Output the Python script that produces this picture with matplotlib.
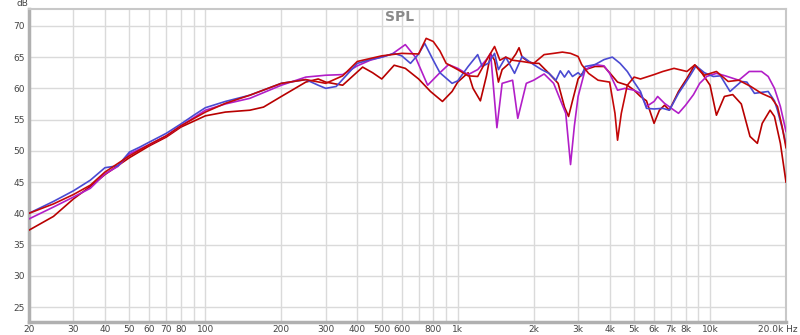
#!/usr/bin/env python3
import matplotlib
matplotlib.use("Agg")
import matplotlib.pyplot as plt
from matplotlib.ticker import FixedLocator, NullFormatter

# ====== DATA ======
BLUE_F = [20, 25, 30, 35, 40, 45, 50, 55, 60, 70, 80, 90, 100, 120, 150, 200, 250, 280, 300,
          330, 370, 400, 450, 500, 560, 600, 650, 700, 740, 800, 850, 950, 1000, 1100, 1200,
          1250, 1320, 1400, 1450, 1550, 1680, 1800, 2000, 2150, 2300, 2450, 2550, 2650, 2750,
          2850, 3000, 3100, 3200, 3500, 3800, 4100, 4400, 4700, 5000, 5300, 5600, 6000, 6500,
          6900, 7500, 8300, 8800, 9500, 10300, 11000, 12000, 13300, 14000, 15000, 17000, 18000,
          18500, 19500, 20000]
BLUE_DB = [40.0, 41.9, 43.6, 45.3, 47.3, 47.6, 49.8, 50.6, 51.4, 52.8, 54.3, 55.7, 56.9, 57.9,
           58.9, 60.8, 61.4, 60.5, 60.0, 60.3, 62.5, 64.0, 64.6, 65.0, 65.6, 65.2, 64.0, 65.5,
           67.2, 64.5, 62.5, 60.8, 61.2, 63.5, 65.4, 63.5, 64.0, 65.6, 63.0, 65.0, 62.4, 65.1,
           63.8, 63.0, 62.4, 61.3, 62.8, 61.8, 62.8, 61.9, 62.5, 62.0, 63.5, 63.8, 64.6, 65.0,
           64.0, 62.7, 61.0, 59.5, 56.8, 56.7, 56.8, 56.5, 59.2, 61.9, 63.6, 62.5, 61.9, 62.0,
           59.5, 61.1, 61.0, 59.2, 59.5, 58.0, 56.5, 53.0, 51.0]

MAG_F = [20, 25, 30, 35, 40, 45, 50, 60, 70, 80, 100, 120, 150, 200, 250, 300, 350, 400, 450,
         500, 550, 620, 680, 760, 850, 920, 1000, 1100, 1200, 1300, 1350, 1430, 1500, 1650, 1730,
         1870, 2000, 2200, 2400, 2680, 2800, 2900, 3000, 3200, 3500, 3800, 4000, 4300, 4600,
         5000, 5300, 5600, 6000, 6200, 6600, 7200, 7500, 8000, 8600, 9100, 9700, 10600, 11500,
         13000, 14300, 16000, 17000, 18000, 19000, 20000]
MAG_DB = [39.1, 41.0, 42.6, 44.0, 46.3, 47.5, 49.5, 51.0, 52.4, 54.0, 56.5, 57.5, 58.4, 60.5,
          61.8, 62.1, 62.2, 63.6, 64.5, 65.0, 65.5, 67.0, 65.0, 60.5, 62.5, 63.8, 63.2, 62.2,
          63.0, 64.6, 65.6, 53.7, 60.8, 61.3, 55.2, 60.8, 61.3, 62.3, 60.8, 56.0, 47.8, 54.0,
          58.7, 63.0, 63.8, 63.6, 62.4, 59.7, 60.0, 59.7, 59.2, 57.1, 57.9, 58.7, 57.6, 56.5,
          56.0, 57.3, 59.0, 60.8, 61.9, 62.4, 62.0, 61.3, 62.7, 62.7, 61.9, 60.0, 57.1, 53.1]

RED_A_F = [20, 25, 30, 35, 40, 50, 60, 70, 80, 100, 120, 150, 170, 200, 250, 280, 300, 350,
           420, 460, 500, 560, 620, 700, 780, 870, 950, 1000, 1100, 1150, 1230, 1300, 1350,
           1400, 1450, 1500, 1600, 1700, 1750, 1800, 1900, 2000, 2100, 2300, 2500, 2650, 2750,
           2850, 3000, 3200, 3500, 3800, 4000, 4300, 4700, 5000, 5300, 5600, 6000, 6300, 6600,
           6900, 7500, 8100, 8700, 9300, 10000, 10600, 11400, 12300, 13300, 14400, 15400, 16100,
           17300, 18000, 19000, 20000]
RED_A_DB = [37.3, 39.5, 42.3, 44.3, 46.2, 48.9, 50.8, 52.2, 53.8, 55.6, 56.2, 56.5, 57.0, 58.7,
            61.0, 61.5, 61.0, 60.5, 63.4, 62.5, 61.5, 63.7, 63.2, 61.5, 59.5, 57.9, 59.5, 61.0,
            62.5, 60.0, 58.0, 62.0, 65.5, 64.5, 61.0, 63.0, 64.0, 65.5, 66.5, 65.0, 64.3, 64.0,
            64.0, 62.4, 60.8, 57.0, 55.5, 58.0, 61.5, 63.0, 63.5, 63.5, 62.5, 61.0, 60.5, 59.7,
            58.7, 58.0, 54.4, 56.5, 57.3, 56.5, 59.5, 61.6, 63.75, 62.4, 60.5, 55.7, 58.7, 59.0,
            57.5, 52.3, 51.2, 54.4, 56.5, 55.5, 51.2, 45.0]

RED_B_F = [20, 25, 30, 35, 40, 50, 60, 70, 80, 100, 120, 150, 200, 250, 300, 350, 400, 500,
           600, 700, 750, 800, 850, 900, 1000, 1100, 1200, 1300, 1400, 1470, 1550, 1650, 1800,
           2000, 2200, 2400, 2600, 2800, 3000, 3100, 3300, 3600, 4000, 4200, 4300, 4450, 4700,
           5000, 5300, 6000, 6500, 7200, 8100, 8700, 9500, 10600, 11800, 13000, 14500, 16000,
           17500, 18500, 19300, 20000]
RED_B_DB = [40.0, 41.5, 43.0, 44.5, 46.6, 49.2, 51.0, 52.4, 54.0, 56.2, 57.6, 58.9, 60.8, 61.4,
            60.8, 62.0, 64.3, 65.2, 65.6, 65.5, 68.0, 67.5, 66.0, 64.0, 63.0, 62.0, 61.9, 64.5,
            66.7, 64.5, 65.0, 64.5, 64.3, 64.0, 65.4, 65.6, 65.8, 65.6, 65.1, 63.8, 62.4, 61.3,
            61.0, 56.0, 51.7, 56.0, 60.5, 61.8, 61.5, 62.2, 62.7, 63.2, 62.7, 63.75, 62.1, 62.7,
            61.1, 61.3, 60.3, 59.2, 58.5, 57.1, 53.9, 50.5]

X_TICKS = [20, 30, 40, 50, 60, 70, 80, 100, 200, 300, 400, 500, 600, 800, 1000, 2000, 3000,
           4000, 5000, 6000, 7000, 8000, 10000, 20000]
X_LABELS = ["20", "30", "40", "50", "60", "70", "80", "100", "200", "300", "400", "500", "600",
            "800", "1k", "2k", "3k", "4k", "5k", "6k", "7k", "8k", "10k", ""]
X_MINOR = [90, 700, 900, 9000]
Y_TICKS = [25, 30, 35, 40, 45, 50, 55, 60, 65, 70]

# ====== PLOT ======
fig = plt.figure(figsize=(8, 3.35), dpi=100)
ax = fig.add_axes([29 / 800, 1 - 322 / 335, 757 / 800, 313 / 335])

line_kw = dict(lw=1.2, solid_joinstyle="round")
ax.plot(RED_A_F, RED_A_DB, color="#b80000", zorder=3, **line_kw)
ax.plot(MAG_F, MAG_DB, color="#b21ec8", zorder=4, **line_kw)
ax.plot(BLUE_F, BLUE_DB, color="#4a4ad2", zorder=5, **line_kw)
ax.plot(RED_B_F, RED_B_DB, color="#c40808", zorder=6, **line_kw)

ax.set_xscale("log")
ax.set_xlim(20, 20000)
ax.set_ylim(22.6, 72.7)

ax.xaxis.set_major_locator(FixedLocator(X_TICKS))
ax.xaxis.set_minor_locator(FixedLocator(X_MINOR))
ax.xaxis.set_minor_formatter(NullFormatter())
ax.set_xticklabels(X_LABELS)
ax.set_yticks(Y_TICKS)

ax.grid(True, which="both", color="#dadada", lw=1.0, zorder=0)
ax.tick_params(which="both", length=0, labelsize=6.5, colors="#444444")
ax.tick_params(axis="x", pad=2)
ax.tick_params(axis="y", pad=3)

for side in ["top", "right"]:
    ax.spines[side].set_color("#c8c8c8")
    ax.spines[side].set_linewidth(1.5)
for side in ["left", "bottom"]:
    ax.spines[side].set_color("#b0b0b0")
    ax.spines[side].set_linewidth(2.5)

# last x label sits against the right edge, like the original
fig.text(798 / 800, 1 - 324.8 / 335, "20.0k Hz", fontsize=6.5, color="#444444",
         ha="right", va="top")
fig.text(22 / 800, 1 - 4 / 335, "dB", fontsize=6.5, color="#444444", ha="center", va="center")
fig.text(0.5, 1 - 17 / 335, "SPL", fontsize=10, fontweight="bold", color="#8a8a8a",
         ha="center", va="center")

fig.savefig("out.png", dpi=100)
